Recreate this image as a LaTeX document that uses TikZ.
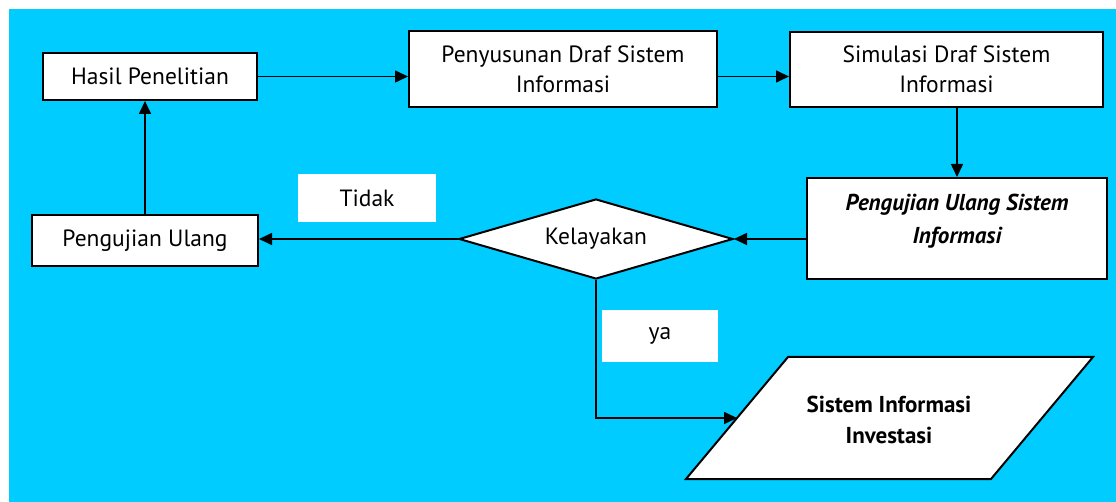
\documentclass[tikz,border=0pt]{standalone}
\usepackage{fontspec}
\setmainfont{PT Sans}
\usetikzlibrary{shapes.geometric,arrows.meta,calc}
\definecolor{skyback}{RGB}{0,204,255}
\tikzset{
  procbox/.style={draw=black, line width=2pt, fill=white, align=center,
    inner sep=0pt, font=\fontsize{23.5}{30}\selectfont},
  tagbox/.style={fill=white, inner sep=0pt, font=\fontsize{23.5}{30}\selectfont},
  flow/.style={line width=1.6pt, -{Triangle[length=13pt,width=12pt]}},
  plainline/.style={line width=1.6pt}
}
\begin{document}
\begin{tikzpicture}[x=1pt,y=-1pt]
  % page and background
  \useasboundingbox (0,0) rectangle (1116,502);
  \fill[skyback] (9,9) rectangle (1116,502);

  % process boxes
  \node[procbox, minimum width=214pt, minimum height=47pt] (hasil) at (150,76.5) {Hasil Penelitian};
  \node[procbox, minimum width=308pt, minimum height=76pt] (draf) at (563,69) {Penyusunan Draf Sistem\\Informasi};
  \node[procbox, minimum width=313pt, minimum height=75pt] (simul) at (946.5,69.5) {Simulasi Draf Sistem\\Informasi};
  \node[procbox, minimum width=300pt, minimum height=101pt] (uji) at (957,228.5) {};
  \node[align=center, font=\fontsize{23}{33}\selectfont\bfseries\itshape] (ujitext) at (957,221.5) {Pengujian Ulang Sistem\\Informasi};
  \node[procbox, minimum width=226pt, minimum height=51pt] (ulang) at (145,240.5) {Pengujian Ulang};

  % decision
  \node[diamond, draw=black, line width=2pt, fill=white, inner sep=0pt, aspect=3.4,
        minimum width=274pt, minimum height=80pt, font=\fontsize{23.5}{30}\selectfont] (layak) at (596,239) {Kelayakan};

  % output parallelogram
  \coordinate (pbl) at (686,479);
  \coordinate (ptl) at (788,357);
  \coordinate (ptr) at (1093,357);
  \coordinate (pbr) at (991,479);
  \draw[line width=2pt, fill=white] (pbl) -- (ptl) -- (ptr) -- (pbr) -- cycle;
  \node[align=center, font=\fontsize{23}{31}\selectfont\bfseries] (hasilsi) at (889,420) {Sistem Informasi\\Investasi};
  \coordinate (pin) at ($(pbl)!0.5!(ptl)$);

  % branch labels
  \node[tagbox, minimum width=138pt, minimum height=48pt] (tidak) at (367,198) {Tidak};
  \node[tagbox, minimum width=116pt, minimum height=52pt] (ya) at (660,336) {ya};

  % connectors
  \draw[flow] (hasil.east) -- (draf.west |- hasil.east);
  \draw[flow] (draf.east |- hasil.east) -- (simul.west |- hasil.east);
  \draw[flow] (simul.south -| uji.north) -- (uji.north);
  \draw[flow] (uji.west |- layak.east) -- (layak.east);
  \draw[flow] (layak.west) -- (ulang.east |- layak.west);
  \draw[flow] (ulang.north) -- (ulang.north |- hasil.south);
  \draw[flow] (layak.south) |- (pin);
\end{tikzpicture}
\end{document}
